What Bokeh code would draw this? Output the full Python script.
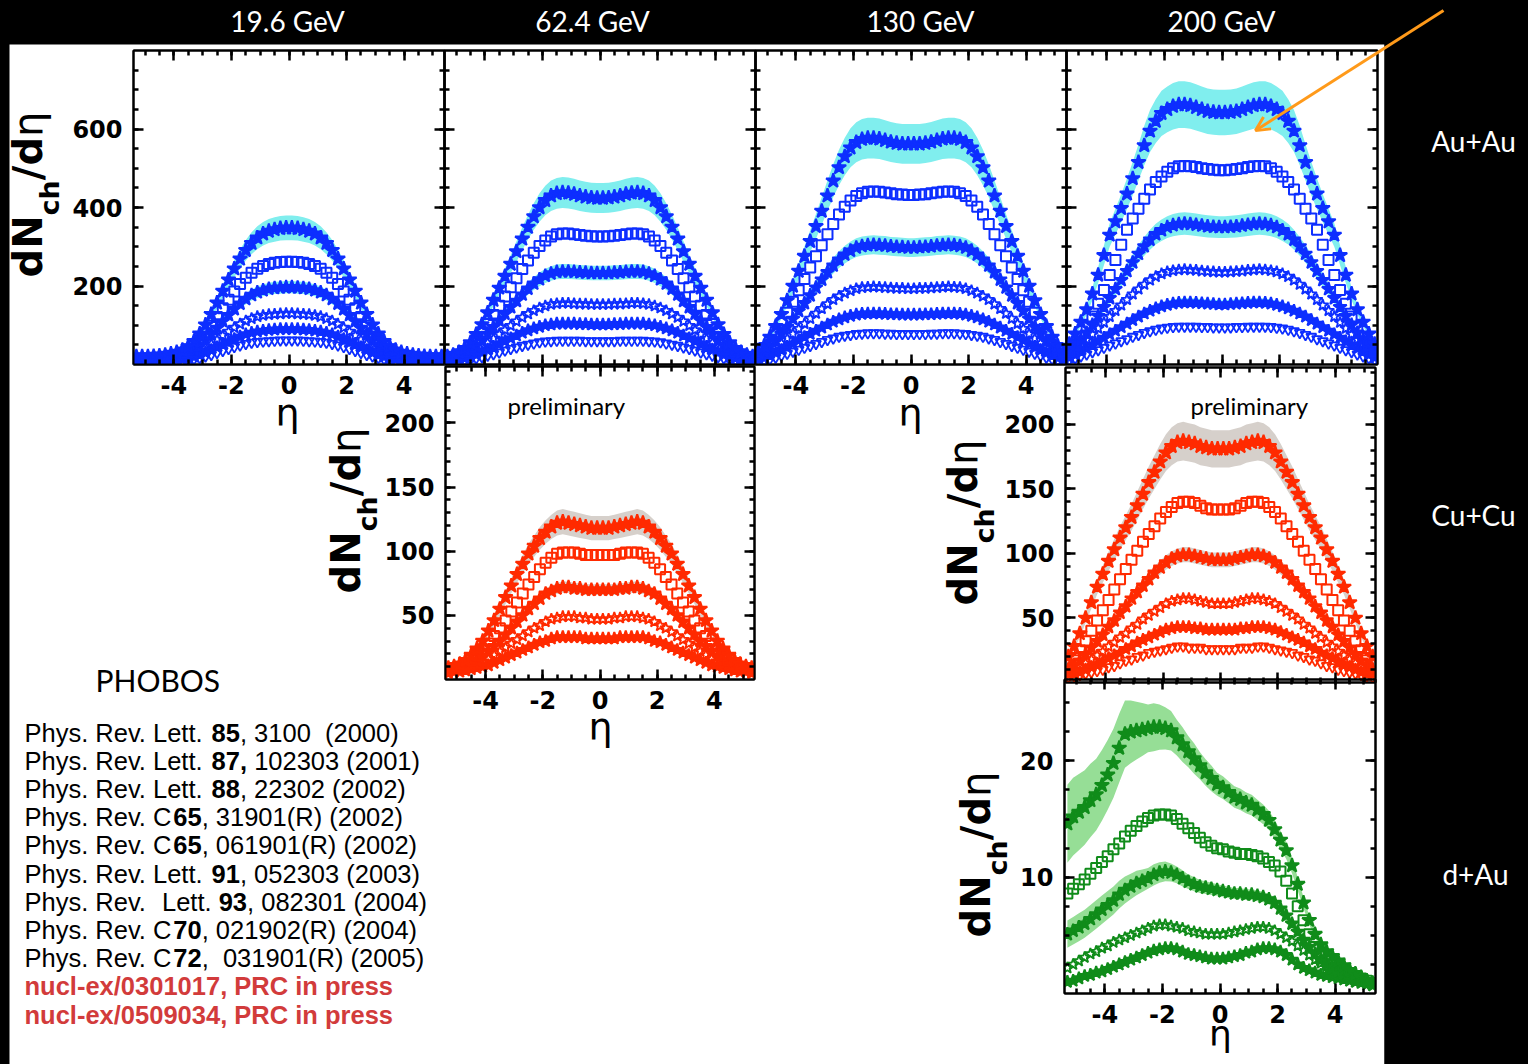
import re
from math import pi
from bokeh.plotting import figure
from bokeh.models import (Range1d, FixedTicker, LinearAxis, Label, BoxAnnotation,
                          Arrow, OpenHead, Column)
from bokeh.embed import file_html
from bokeh.resources import INLINE

# ------------------------------------------------------------------ data
ETA_HALF = [0.1, 0.3, 0.5, 0.7, 0.9, 1.1, 1.3, 1.5, 1.7, 1.9, 2.1, 2.3, 2.5, 2.7,
            2.9, 3.1, 3.3, 3.5, 3.7, 3.9, 4.1, 4.3, 4.5, 4.7, 4.9, 5.1, 5.3]

ENERGY_TITLES = ["19.6 GeV", "62.4 GeV", "130 GeV", "200 GeV"]
SYSTEMS = ["Au+Au", "Cu+Cu", "d+Au"]
X_TICKS = [-4, -2, 0, 2, 4]
AUAU_Y_TICKS = [200, 400, 600]
CUCU_Y_TICKS = [50, 100, 150, 200]
DAU_Y_TICKS = [10, 20]

# Au+Au, |eta| half profiles (6 centrality bins, most central first)
AUAU19_S1 = [348, 347, 344, 340, 333, 323, 309, 291, 269, 244, 216, 187, 157, 128, 101, 78, 59, 46, 37, 31, 27, 24, 22, 21, 20, 20, 20]
AUAU19_S2 = [262, 261, 259, 256, 251, 244, 234, 221, 205, 186, 165, 143, 121, 99, 79, 62, 48, 38, 30, 25, 22, 20, 18, 17, 16, 16, 15]
AUAU19_S3 = [197, 196, 195, 193, 189, 184, 177, 167, 155, 141, 126, 110, 93, 77, 62, 49, 38, 30, 24, 20, 18, 16, 15, 14, 14, 13, 13]
AUAU19_S4 = [130, 129, 128, 127, 125, 122, 117, 111, 103, 94, 84, 74, 63, 52, 42, 34, 27, 22, 18, 15, 14, 13, 12, 12, 11, 11, 11]
AUAU19_S5 = [90, 90, 89, 88, 86, 84, 81, 77, 71, 65, 58, 51, 44, 37, 30, 24, 20, 16, 14, 12, 11, 10, 10, 9, 9, 9, 9]
AUAU19_S6 = [62, 62, 61, 60, 59, 58, 56, 53, 49, 45, 40, 35, 30, 25, 21, 17, 14, 12, 10, 9, 8, 8, 7, 7, 7, 7, 7]

AUAU62_S1 = [424, 425, 427, 430, 434, 437, 438, 436, 430, 418, 400, 377, 350, 320, 288, 256, 225, 195, 164, 132, 102, 77, 56, 41, 31, 24, 20]
AUAU62_S2 = [326, 327, 328, 330, 332, 334, 334, 332, 326, 316, 302, 285, 265, 243, 220, 197, 173, 150, 126, 103, 82, 62, 46, 34, 26, 20, 16]
AUAU62_S3 = [233, 233, 234, 235, 236, 237, 237, 236, 232, 226, 217, 206, 193, 178, 162, 146, 129, 112, 95, 78, 62, 48, 36, 27, 21, 17, 14]
AUAU62_S4 = [153, 153, 154, 154, 155, 156, 156, 155, 153, 149, 144, 137, 129, 120, 110, 99, 88, 77, 66, 55, 44, 35, 27, 21, 17, 14, 12]
AUAU62_S5 = [102, 102, 103, 103, 104, 104, 104, 104, 102, 100, 96, 92, 87, 81, 74, 67, 60, 52, 45, 38, 31, 25, 20, 16, 13, 11, 10]
AUAU62_S6 = [60, 60, 60, 61, 61, 61, 61, 61, 60, 59, 57, 54, 51, 48, 44, 40, 36, 31, 27, 23, 19, 16, 13, 11, 9, 8, 7]

AUAU130_S1 = [562, 562, 564, 567, 571, 575, 577, 577, 574, 566, 552, 530, 502, 468, 430, 391, 352, 314, 276, 238, 200, 163, 128, 97, 70, 47, 30]
AUAU130_S2 = [432, 433, 434, 436, 438, 440, 441, 440, 436, 429, 418, 402, 382, 358, 332, 304, 276, 247, 218, 189, 160, 132, 106, 82, 60, 42, 28]
AUAU130_S3 = [298, 299, 300, 301, 303, 304, 305, 304, 302, 298, 290, 280, 267, 252, 235, 216, 196, 176, 156, 136, 116, 96, 78, 61, 46, 33, 22]
AUAU130_S4 = [193, 194, 194, 195, 196, 197, 198, 197, 196, 193, 188, 182, 174, 165, 154, 142, 130, 117, 104, 91, 78, 66, 54, 43, 33, 24, 16]
AUAU130_S5 = [127, 127, 128, 128, 129, 130, 130, 130, 129, 127, 124, 120, 115, 109, 102, 94, 86, 78, 70, 62, 53, 45, 37, 30, 23, 17, 12]
AUAU130_S6 = [78, 78, 78, 79, 79, 80, 80, 80, 79, 78, 76, 74, 71, 67, 63, 58, 53, 48, 43, 38, 33, 28, 23, 18, 14, 11, 8]

AUAU200_S1 = [642, 643, 645, 650, 655, 660, 662, 662, 658, 650, 640, 620, 595, 558, 515, 474, 435, 398, 364, 330, 278, 228, 180, 140, 108, 78, 52]
AUAU200_S2 = [495, 496, 498, 500, 503, 505, 506, 505, 500, 491, 479, 465, 446, 422, 397, 372, 343, 305, 266, 228, 190, 155, 122, 94, 70, 50, 34]
AUAU200_S3 = [350, 351, 352, 354, 356, 358, 359, 358, 355, 350, 342, 332, 318, 301, 282, 260, 238, 215, 192, 169, 146, 123, 101, 81, 63, 47, 33]
AUAU200_S4 = [235, 236, 237, 238, 240, 241, 242, 241, 239, 236, 231, 224, 215, 204, 192, 179, 165, 151, 137, 122, 107, 92, 77, 63, 50, 38, 27]
AUAU200_S5 = [153, 154, 155, 156, 157, 158, 158, 157, 155, 152, 148, 143, 137, 130, 122, 113, 104, 95, 86, 77, 68, 59, 50, 41, 33, 25, 18]
AUAU200_S6 = [95, 95, 96, 96, 97, 97, 97, 97, 96, 94, 92, 89, 85, 81, 76, 71, 65, 60, 54, 49, 43, 37, 32, 26, 21, 16, 12]

# Cu+Cu (preliminary)
CUCU62_S1 = [118, 118, 119, 120, 121, 122, 123, 122, 119, 115, 110, 104, 98, 90, 82, 73, 64, 55, 46, 38, 30, 24, 19, 15, 12, 10, 9]
CUCU62_S2 = [97, 97, 97, 98, 99, 99, 99, 98, 95, 91, 86, 80, 74, 67, 60, 53, 46, 40, 34, 28, 23, 19, 15, 12, 10, 9, 8]
CUCU62_S3 = [70, 70, 70, 71, 71, 72, 72, 71, 69, 67, 63, 59, 55, 50, 45, 40, 35, 30, 26, 22, 18, 15, 12, 10, 9, 8, 7]
CUCU62_S4 = [47, 47, 48, 48, 49, 49, 49, 48, 47, 45, 42, 40, 37, 34, 31, 28, 25, 22, 19, 16, 14, 12, 10, 9, 8, 7, 6]
CUCU62_S5 = [32, 32, 32, 33, 33, 33, 33, 33, 32, 30, 29, 27, 25, 23, 21, 19, 17, 15, 13, 11, 10, 9, 8, 7, 6, 6, 5]

CUCU200_S1 = [181, 181, 182, 183, 185, 186, 187, 186, 183, 178, 171, 163, 155, 146, 137, 128, 120, 112, 103, 94, 84, 74, 62, 50, 38, 28, 20]
CUCU200_S2 = [134, 134, 135, 137, 139, 140, 140, 139, 136, 132, 127, 121, 115, 109, 102, 95, 88, 80, 72, 64, 56, 48, 40, 32, 25, 19, 14]
CUCU200_S3 = [95, 95, 96, 97, 98, 99, 99, 98, 96, 93, 89, 85, 80, 75, 70, 65, 59, 54, 48, 43, 37, 32, 27, 22, 17, 13, 10]
CUCU200_S4 = [61, 61, 62, 63, 64, 65, 65, 64, 63, 61, 58, 55, 52, 49, 45, 42, 38, 35, 31, 28, 24, 21, 18, 15, 12, 10, 8]
CUCU200_S5 = [41, 41, 41, 42, 42, 43, 43, 43, 42, 41, 39, 37, 35, 33, 31, 28, 26, 23, 21, 19, 16, 14, 12, 10, 8, 7, 6]
CUCU200_S6 = [26, 26, 26, 27, 27, 27, 28, 28, 27, 26, 25, 24, 23, 21, 20, 18, 17, 15, 13, 12, 10, 9, 8, 7, 6, 5, 4]

# d+Au 200 GeV, full eta range -5.3 ... 5.3 (5 centrality bins)
DAU_S1 = [14.6, 15.2, 15.6, 16.0, 16.6, 17.1, 17.9, 18.8, 19.8, 21.1, 22.3, 22.5, 22.6, 22.7, 22.8, 22.9, 22.9, 22.8, 22.6, 22.0, 21.4, 20.8, 20.2, 19.6, 19.0, 18.5, 18.0,
          17.7, 17.3, 16.9, 16.7, 16.4, 16.2, 15.8, 15.4, 14.9, 14.1, 13.2, 12.3, 11.0, 9.4, 7.8, 6.3, 5.1, 4.2, 3.6, 3.2, 2.8, 2.4, 2.0, 1.7, 1.4, 1.1, 0.9]
DAU_S2 = [8.6, 9.0, 9.4, 9.8, 10.3, 10.8, 11.3, 11.8, 12.4, 12.9, 13.5, 14.0, 14.4, 14.8, 15.1, 15.3, 15.4, 15.4, 15.3, 15.0, 14.6, 14.2, 13.8, 13.4, 13.0, 12.7, 12.5,
          12.4, 12.2, 12.1, 12.0, 12.0, 11.9, 11.8, 11.6, 11.3, 11.0, 10.5, 9.7, 8.6, 7.5, 6.3, 5.1, 4.0, 3.3, 2.8, 2.5, 2.2, 1.9, 1.7, 1.5, 1.3, 1.1, 0.9]
DAU_S3 = [5.1, 5.4, 5.7, 6.0, 6.4, 6.8, 7.2, 7.6, 8.0, 8.5, 8.9, 9.2, 9.5, 9.7, 9.9, 10.2, 10.4, 10.5, 10.4, 10.2, 9.9, 9.6, 9.4, 9.2, 9.1, 9.0, 8.9,
          8.8, 8.7, 8.6, 8.6, 8.5, 8.5, 8.4, 8.3, 8.1, 7.8, 7.3, 6.7, 6.0, 5.3, 4.6, 4.0, 3.4, 2.9, 2.5, 2.2, 1.9, 1.7, 1.5, 1.3, 1.1, 1.0, 0.8]
DAU_S4 = [2.2, 2.5, 2.8, 3.1, 3.4, 3.6, 3.9, 4.1, 4.4, 4.6, 4.8, 5.0, 5.2, 5.4, 5.6, 5.8, 5.9, 5.9, 5.8, 5.7, 5.6, 5.4, 5.3, 5.2, 5.1, 5.1, 5.1,
          5.1, 5.2, 5.3, 5.4, 5.5, 5.6, 5.7, 5.7, 5.6, 5.4, 5.1, 4.8, 4.5, 4.1, 3.7, 3.3, 2.9, 2.6, 2.3, 2.1, 1.9, 1.7, 1.5, 1.3, 1.2, 1.0, 0.9]
DAU_S5 = [1.0, 1.1, 1.3, 1.5, 1.6, 1.8, 1.9, 2.1, 2.3, 2.5, 2.7, 2.9, 3.1, 3.3, 3.5, 3.7, 3.8, 3.9, 3.9, 3.8, 3.6, 3.4, 3.3, 3.2, 3.1, 3.0, 3.0,
          3.0, 3.1, 3.2, 3.3, 3.5, 3.6, 3.8, 3.9, 3.9, 3.8, 3.6, 3.3, 2.9, 2.5, 2.2, 2.0, 1.8, 1.6, 1.5, 1.4, 1.3, 1.2, 1.1, 1.0, 0.9, 0.8, 0.7]

# systematic-error band half widths (fraction of value)
AUAU_BAND_FRAC = [0.09, 0.0, 0.08, 0.0, 0.07, 0.0]
CUCU_BAND_FRAC = [0.08, 0.0, 0.06, 0.0, 0.05, 0.0]
DAU_BAND_FRAC = [0.23, 0.22, 0.21, 0.20, 0.19, 0.18, 0.17, 0.16, 0.15, 0.14, 0.13, 0.12, 0.11, 0.10, 0.09, 0.09, 0.085, 0.08, 0.075, 0.07, 0.07, 0.065, 0.065, 0.06, 0.06, 0.06, 0.055,
                 0.055, 0.055, 0.055, 0.055, 0.055, 0.055, 0.055, 0.055, 0.055, 0.06, 0.06, 0.06, 0.06, 0.06, 0.06, 0.06, 0.06, 0.06, 0.06, 0.06, 0.06, 0.06, 0.06, 0.06, 0.06, 0.06, 0.06]
DAU_SERIES_HAS_BAND = [True, False, True, False, True]

REF_LINES = [
    [("Phys. Rev. Lett. ", False), ("85", True), (", 3100  (2000)", False)],
    [("Phys. Rev. Lett. ", False), ("87,", True), (" 102303 (2001)", False)],
    [("Phys. Rev. Lett. ", False), ("88", True), (", 22302 (2002)", False)],
    [("Phys. Rev. C", False), ("65", True), (", 31901(R) (2002)", False)],
    [("Phys. Rev. C", False), ("65", True), (", 061901(R) (2002)", False)],
    [("Phys. Rev. Lett. ", False), ("91", True), (", 052303 (2003)", False)],
    [("Phys. Rev.  Lett. ", False), ("93", True), (", 082301 (2004)", False)],
    [("Phys. Rev. C", False), ("70", True), (", 021902(R) (2004)", False)],
    [("Phys. Rev. C", False), ("72", True), (",  031901(R) (2005)", False)],
]
RED_LINES = ["nucl-ex/0301017, PRC in press", "nucl-ex/0509034, PRC in press"]

# ------------------------------------------------------------------ style
BLUE, CYAN = "#0d2eff", "#80eeee"
RED, GRAY = "#ff2a00", "#d6d0cb"
GREEN, LGREEN = "#108c1a", "#96de96"
ORANGE = "#ff9a1a"
REF_RED = "#d23b3b"

# (marker, size, filled, line width)
SERIES_STYLE = [("star", 15, True, 2.0), ("square", 10, False, 2.0), ("star", 14, True, 2.0),
                ("star", 12, False, 1.8), ("star", 13, True, 2.0), ("inverted_triangle", 10, False, 1.8)]

X_MINOR = [-5 + 0.5 * k for k in range(21)]
AU_MINOR = [50 * k for k in range(1, 16)]
CU_MINOR = [10 * k for k in range(1, 25)]
DAU_MINOR = [2.5 * k for k in range(1, 11)]

ETA_FULL = [-e for e in reversed(ETA_HALF)] + list(ETA_HALF)

BL, BR, BT = 90, 15, 10   # fixed borders of every canvas
PAGE_W, PAGE_H = 1528, 1064
BASE_SHIFT = 0.43          # alphabetic-baseline correction (fraction of font size)


def mirror(half):
    return list(reversed(half)) + list(half)


def style_axis(ax, ticker, labels):
    ax.ticker = ticker
    ax.axis_line_color = "black"
    ax.axis_line_width = 2
    ax.major_tick_in = 10
    ax.major_tick_out = 0
    ax.minor_tick_in = 5
    ax.minor_tick_out = 0
    ax.major_tick_line_width = 2.5
    ax.minor_tick_line_width = 2.5
    ax.major_tick_line_color = "black"
    ax.minor_tick_line_color = "black"
    if labels:
        ax.major_label_standoff = 11
        ax.major_label_text_font = "DejaVu Sans"
        ax.major_label_text_font_style = "bold"
        ax.major_label_text_font_size = "24px"
        ax.major_label_text_color = "black"
        ax.major_label_overrides = {t: str(t) for t in ticker.ticks}
    else:
        ax.major_label_standoff = 0
        ax.major_label_text_font_size = "1px"
        ax.major_label_text_alpha = 0


def make_panel(frame, ylim, yticks, yminor, show_x, show_y):
    fx, fy, fw, fh = frame
    bb = 50 if show_x else 10
    p = figure(width=fw + BL + BR, height=fh + BT + bb,
               x_range=Range1d(-5.4, 5.4), y_range=Range1d(*ylim),
               min_border_left=BL, min_border_right=BR,
               min_border_top=BT, min_border_bottom=bb,
               output_backend="svg", toolbar_location=None, tools="", title=None)
    p.background_fill_color = None
    p.border_fill_color = None
    p.outline_line_color = "black"
    p.outline_line_width = 2
    p.xgrid.visible = False
    p.ygrid.visible = False
    style_axis(p.xaxis[0], FixedTicker(ticks=X_TICKS, minor_ticks=X_MINOR), show_x)
    style_axis(p.yaxis[0], FixedTicker(ticks=yticks, minor_ticks=yminor), show_y)
    top = LinearAxis()
    style_axis(top, FixedTicker(ticks=X_TICKS, minor_ticks=X_MINOR), False)
    p.add_layout(top, "above")
    right = LinearAxis()
    style_axis(right, FixedTicker(ticks=yticks, minor_ticks=yminor), False)
    p.add_layout(right, "right")
    p.styles = {"position": "absolute", "left": f"{fx - BL}px", "top": f"{fy - BT}px"}
    return p


def add_series(p, eta, series, fracs, color, band_color):
    for vals, fr in zip(series, fracs):
        if isinstance(fr, list):
            lo = [v * (1 - f) for v, f in zip(vals, fr)]
            hi = [v * (1 + f) for v, f in zip(vals, fr)]
        elif fr > 0:
            lo = [v * (1 - fr) for v in vals]
            hi = [v * (1 + fr) for v in vals]
        else:
            continue
        p.varea(x=eta, y1=lo, y2=hi, fill_color=band_color, fill_alpha=1.0)
    for i in reversed(range(len(series))):
        marker, size, filled, lw = SERIES_STYLE[i]
        p.scatter(x=eta, y=series[i], marker=marker, size=size,
                  fill_color=color if filled else None, line_color=color, line_width=lw)


def page_fig(x0, x1, left_px, fill):
    """A canvas whose frame maps page pixels x0..x1, 0..PAGE_H one to one."""
    f = figure(width=int(x1 - x0) + BL + BR, height=PAGE_H,
               x_range=Range1d(x0, x1), y_range=Range1d(PAGE_H, 0),
               x_axis_type=None, y_axis_type=None,
               min_border_left=BL, min_border_right=BR, min_border_top=0, min_border_bottom=0,
               output_backend="svg", toolbar_location=None, tools="", title=None)
    f.background_fill_color = fill
    f.border_fill_color = fill
    f.outline_line_color = None
    f.styles = {"position": "absolute", "left": f"{left_px}px", "top": "0px"}
    return f


def lab(fig, x, y, text, font, size, color="black", style="normal", align="left", angle=0.0):
    if angle:
        x = x - BASE_SHIFT * size
    else:
        y = y - BASE_SHIFT * size
    fig.add_layout(Label(x=x, y=y, text=text, text_font=font, text_font_size=f"{size}px",
                         text_font_style=style, text_color=color, text_align=align,
                         text_baseline="alphabetic", angle=angle))


# ------------------------------------------------------------------ panels
panels = []
au_sets = [
    ((133, 50, 311, 314), [AUAU19_S1, AUAU19_S2, AUAU19_S3, AUAU19_S4, AUAU19_S5, AUAU19_S6], True, True),
    ((444, 50, 311, 314), [AUAU62_S1, AUAU62_S2, AUAU62_S3, AUAU62_S4, AUAU62_S5, AUAU62_S6], False, False),
    ((755, 50, 311, 314), [AUAU130_S1, AUAU130_S2, AUAU130_S3, AUAU130_S4, AUAU130_S5, AUAU130_S6], True, False),
    ((1066, 50, 311, 314), [AUAU200_S1, AUAU200_S2, AUAU200_S3, AUAU200_S4, AUAU200_S5, AUAU200_S6], False, False),
]
for frame, ser, sx, sy in au_sets:
    p = make_panel(frame, (0, 800), AUAU_Y_TICKS, AU_MINOR, sx, sy)
    add_series(p, ETA_FULL, [mirror(s) for s in ser], AUAU_BAND_FRAC, BLUE, CYAN)
    panels.append(p)

p = make_panel((445, 366, 309, 313), (0, 244), CUCU_Y_TICKS, CU_MINOR, True, True)
add_series(p, ETA_FULL, [mirror(s) for s in [CUCU62_S1, CUCU62_S2, CUCU62_S3, CUCU62_S4, CUCU62_S5]],
           CUCU_BAND_FRAC[:5], RED, GRAY)
panels.append(p)

p = make_panel((1065, 367, 310, 315), (0, 244), CUCU_Y_TICKS, CU_MINOR, False, True)
add_series(p, ETA_FULL, [mirror(s) for s in [CUCU200_S1, CUCU200_S2, CUCU200_S3, CUCU200_S4, CUCU200_S5, CUCU200_S6]],
           CUCU_BAND_FRAC, RED, GRAY)
panels.append(p)

p = make_panel((1064, 679, 311, 314), (0, 27), DAU_Y_TICKS, DAU_MINOR, True, True)
add_series(p, ETA_FULL, [DAU_S1, DAU_S2, DAU_S3, DAU_S4, DAU_S5],
           [DAU_BAND_FRAC if b else 0.0 for b in DAU_SERIES_HAS_BAND], GREEN, LGREEN)
panels.append(p)

# ------------------------------------------------------------------ background page (left part)
bg = page_fig(0, PAGE_W - BL - BR, -BL, "black")
bg.add_layout(BoxAnnotation(left=9, right=1384, top=44, bottom=PAGE_H,
                            fill_color="white", fill_alpha=1.0, line_color=None))

for t, xc in zip(ENERGY_TITLES, [287, 592, 920, 1221]):
    lab(bg, xc, 33, t, "Lato", 28, "white", align="center")

DJB = {"d": 0.716, "N": 0.837, "c": 0.593, "h": 0.712, "/": 0.365}


def dndeta(fig, xb, ys):
    big, small = 40, 27
    parts = [("dN", 0, big, "bold"), ("ch", 16, small, "bold"),
             ("/d", 0, big, "bold"), ("\u03b7", 0, big, "normal")]
    y = ys
    for txt, dx, size, st in parts:
        lab(fig, xb + dx, y, txt, "DejaVu Sans", size, "black", st, "left", pi / 2)
        y -= sum(DJB.get(c, 0.65) for c in txt) * size


dndeta(bg, 45, 277)
dndeta(bg, 363, 593)
dndeta(bg, 980, 605)
dndeta(bg, 993, 937)

for xc, yb, fs in [(287, 429, 38), (910, 429, 38), (600, 743, 38), (1220, 1048, 36)]:
    lab(bg, xc, yb, "\u03b7", "DejaVu Sans", fs, "black", align="center")

lab(bg, 507, 415, "preliminary", "Lato", 24)
lab(bg, 1190, 415, "preliminary", "Lato", 24)
lab(bg, 95, 692, "PHOBOS", "Lato", 30)

AR = {" ": 278, ".": 278, ",": 278, "(": 333, ")": 333, "P": 667, "h": 556, "y": 500,
      "s": 500, "R": 722, "e": 556, "v": 500, "L": 556, "t": 278, "C": 722}
ARB = {",": 278, " ": 278}
FS = 25.5


def width(txt, bold):
    tab = ARB if bold else AR
    return sum(tab.get(c, 556) for c in txt) / 1000.0 * FS


for i, line in enumerate(REF_LINES):
    yb = 743 + i * 28.2
    x = 24.0
    for seg, bold in line:
        for m in re.finditer(r"\S+(?: \S+)*", seg):
            lab(bg, x + width(seg[:m.start()], bold), yb, m.group(0), "Liberation Sans", FS,
                "black", "bold" if bold else "normal")
        x += width(seg, bold)
for j, t in enumerate(RED_LINES):
    lab(bg, 24, 743 + (9 + j) * 28.2, t, "Liberation Sans", FS, REF_RED, "bold")

# ------------------------------------------------------------------ right overlay: black strip, row labels, arrow
fg = page_fig(1230, PAGE_W, 1230 - BL, None)
fg.add_layout(BoxAnnotation(left=1384, right=PAGE_W, top=0, bottom=PAGE_H,
                            fill_color="black", fill_alpha=1.0, line_color=None))
for t, xc, yb in zip(SYSTEMS, [1473, 1473, 1475], [153, 527, 886]):
    lab(fg, xc, yb, t, "Lato", 28, "white", align="center")
fg.add_layout(Arrow(x_start=1443, y_start=10, x_end=1255, y_end=130,
                    line_color=ORANGE, line_width=3,
                    end=OpenHead(line_color=ORANGE, line_width=3, size=14)))

root = Column(children=[bg] + panels + [fg], width=PAGE_W, height=PAGE_H, sizing_mode="fixed",
              styles={"position": "relative", "overflow": "hidden", "background-color": "black"})

html = file_html(root, INLINE, title="PHOBOS dNch/deta")
i0 = html.rfind("<body")
i1 = html.find(">", i0)
if i0 >= 0 and i1 > i0:
    html = html[:i0] + '<body style="margin:0; overflow:hidden; background-color:#000000;">' + html[i1 + 1:]
open("out.html", "w").write(html)
